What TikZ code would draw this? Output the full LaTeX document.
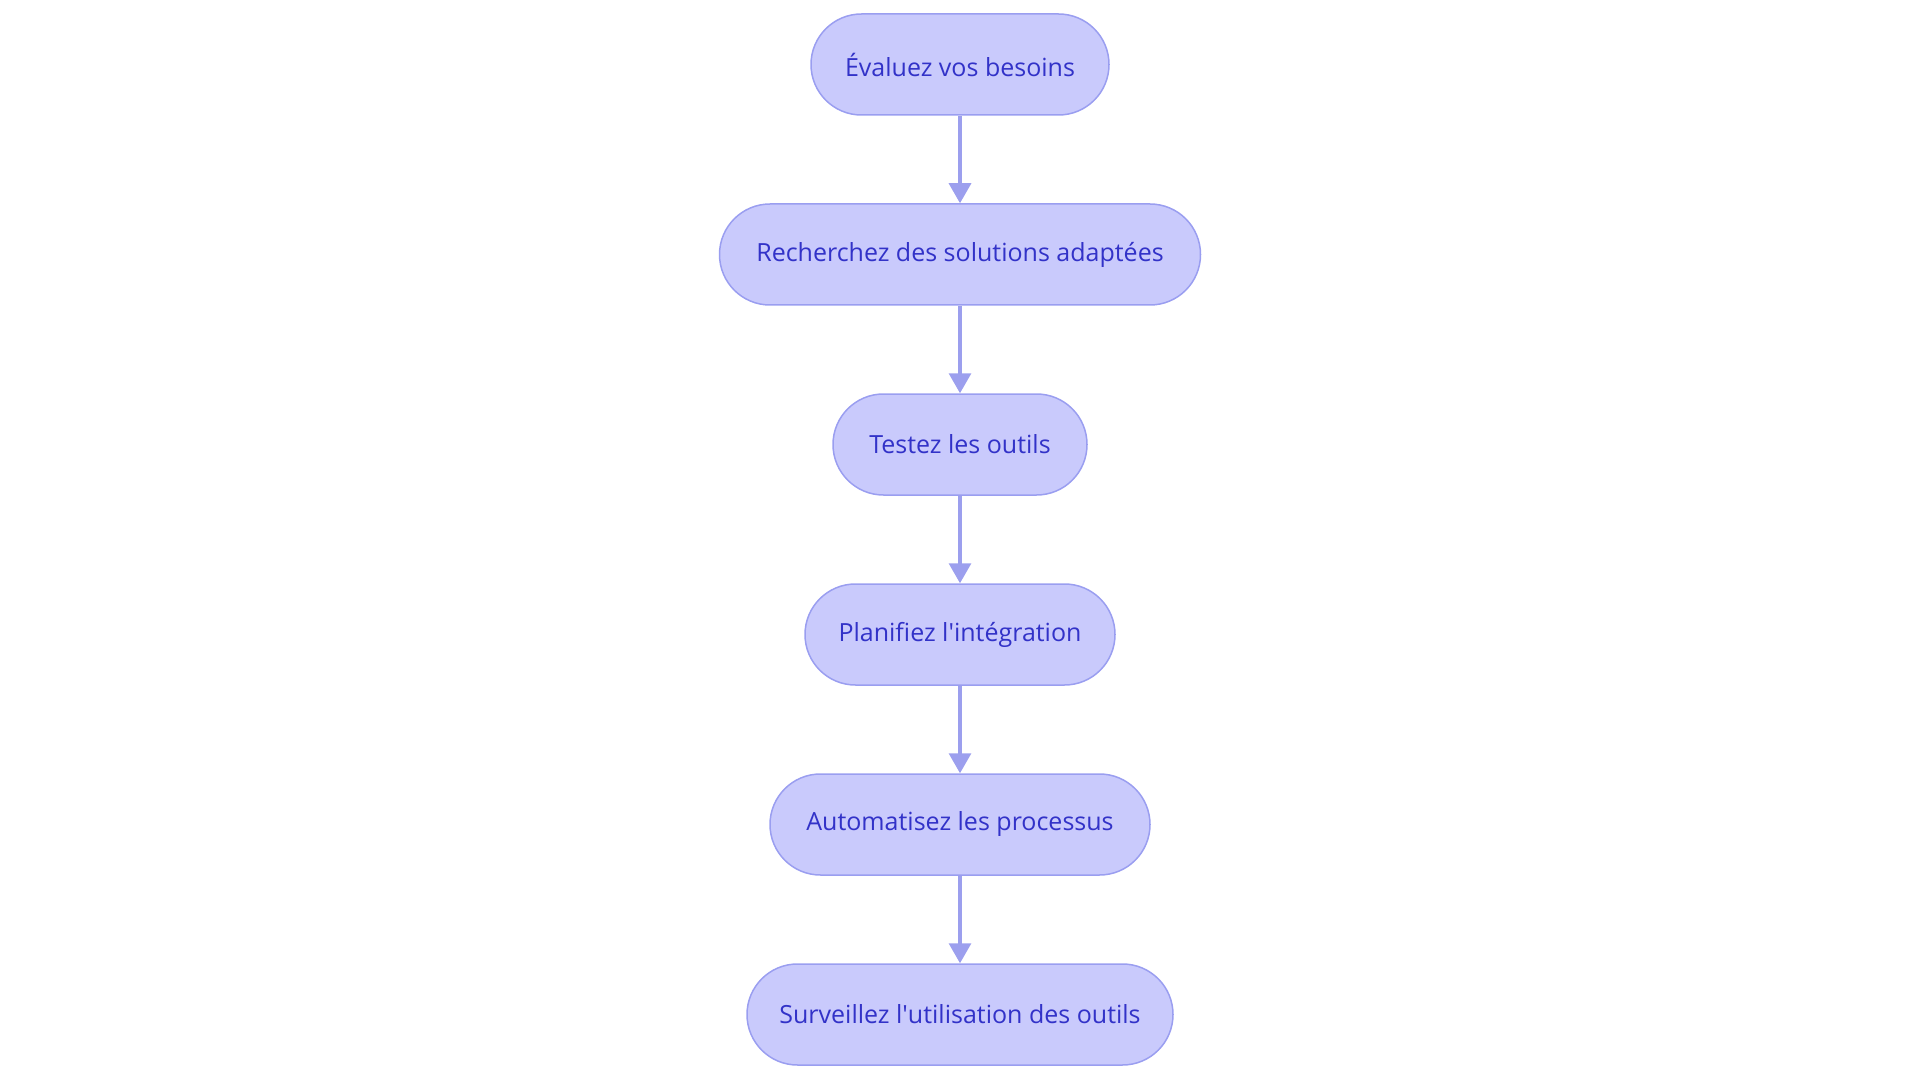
\documentclass[tikz,border=0pt]{standalone}
\usepackage{fontspec}
\setmainfont{Open Sans}
\usetikzlibrary{arrows.meta}
\definecolor{boxfill}{HTML}{C9CAFC}
\definecolor{boxline}{HTML}{9A9EF0}
\definecolor{boxtext}{HTML}{3232C8}
\definecolor{arrowc}{HTML}{9C9FEE}
\tikzset{
  stepbox/.style={rounded corners=50.5pt, draw=boxline, line width=1.5pt, fill=boxfill,
    text=boxtext, font=\fontsize{25}{29}\selectfont, minimum height=101pt, inner sep=0pt, anchor=center},
  flow/.style={draw=arrowc, line width=3.2pt, -{Triangle[length=20pt,width=22pt]}}
}
\begin{document}
\begin{tikzpicture}[x=1pt,y=-1pt]
\useasboundingbox (0,0) rectangle (1920,1083);
\node[stepbox, minimum width=298pt] (a) at (960,64.5) {Évaluez vos besoins};
\node[stepbox, minimum width=481pt] (b) at (960,254.5) {Recherchez des solutions adaptées};
\node[stepbox, minimum width=254pt] (c) at (960,444.5) {Testez les outils};
\node[stepbox, minimum width=310pt] (d) at (960,634.5) {Planifiez l\textquotesingle intégration};
\node[stepbox, minimum width=380pt] (e) at (960,824.5) {Automatisez les processus};
\node[stepbox, minimum width=426pt] (f) at (960,1014.5) {Surveillez l\textquotesingle utilisation des outils};
\draw[flow] (a) -- (b);
\draw[flow] (b) -- (c);
\draw[flow] (c) -- (d);
\draw[flow] (d) -- (e);
\draw[flow] (e) -- (f);
\end{tikzpicture}
\end{document}
